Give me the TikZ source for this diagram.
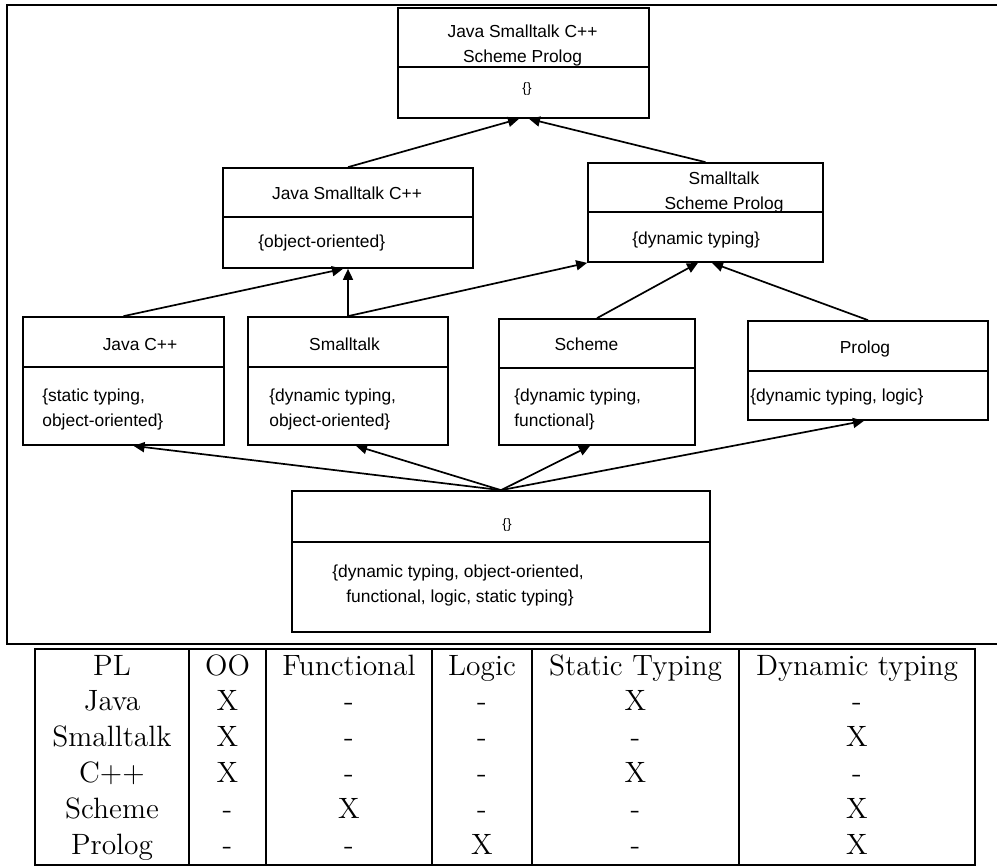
\documentclass[tikz,border=0pt]{standalone}
\usepackage{fontspec}
\newfontfamily\diagfont{Liberation Sans}
\usetikzlibrary{arrows.meta,calc,fit}

% class box: name, x1, y1, x2, y2, y of the compartment divider
\newcommand\umlclass[6]{%
  \node[classbox, fit={(#2,#3) (#4,#5)}] (#1) {};
  \draw[classline] ($(#1.north west)+(0,#6-#3)$) -- ($(#1.north east)+(0,#6-#3)$);
}

\tikzset{
  classbox/.style={draw, line width=0.85pt, inner sep=0pt, rectangle},
  classline/.style={line width=0.85pt},
  lbl/.style={inner sep=0pt, anchor=base, font=\diagfont\fontsize{8.7}{10}\selectfont},
  lblw/.style={lbl, anchor=base west},
  lbls/.style={lbl, font=\diagfont\fontsize{6.8}{8}\selectfont},
  isa/.style={line width=0.85pt, -{Triangle[length=5.5pt,width=5pt]}},
  frameline/.style={line width=1.1pt},
  cell/.style={inner sep=0pt, anchor=base, font=\fontsize{14.7}{18}\selectfont},
}

\begin{document}
\begin{tikzpicture}[x=0.5pt, y=-0.5pt]
\useasboundingbox (0,0) rectangle (997,866);

% outer frame around the lattice
\draw[frameline] (1003,5) -- (7,5) -- (7,644) -- (1003,644);

% concept boxes
\umlclass{top}{398}{8}{649}{118}{68}
\umlclass{cls2}{223}{168}{473}{268}{218}
\umlclass{cls3}{588}{163}{823}{262}{213}
\umlclass{javacpp}{23}{317}{224}{445}{368}
\umlclass{smalltalk}{248}{317}{448}{445}{368}
\umlclass{scheme}{499}{319}{695}{445}{369}
\umlclass{prolog}{748}{321}{988}{420}{372}
\umlclass{bottom}{292}{491}{710}{632}{543}

% box texts
\node[lbl] (top-a) at (522.5,38) {Java Smalltalk C++};
\node[lbl] (top-b) at (522.5,63) {Scheme Prolog};
\node[lbls] (top-c) at (527,93) {\{\}};

\node[lbl] (cls2-a) at (347,200) {Java Smalltalk C++};
\node[lblw] (cls2-b) at (258,248) {\{object-oriented\}};

\node[lbl] (cls3-a) at (724,185) {Smalltalk};
\node[lbl] (cls3-b) at (724,210) {Scheme Prolog};
\node[lblw] (cls3-c) at (632,245) {\{dynamic typing\}};

\node[lbl] (javacpp-a) at (140,351) {Java C++};
\node[lblw] (javacpp-b) at (42,402) {\{static typing,};
\node[lblw] (javacpp-c) at (42,427) {object-oriented\}};

\node[lbl] (smalltalk-a) at (344.5,351) {Smalltalk};
\node[lblw] (smalltalk-b) at (269,402) {\{dynamic typing,};
\node[lblw] (smalltalk-c) at (269,427) {object-oriented\}};

\node[lbl] (scheme-a) at (586.5,351) {Scheme};
\node[lblw] (scheme-b) at (514,402) {\{dynamic typing,};
\node[lblw] (scheme-c) at (514,427) {functional\}};

\node[lbl] (prolog-a) at (865,354) {Prolog};
\node[lblw] (prolog-b) at (750,402) {\{dynamic typing, logic\}};

\node[lbls] (bottom-a) at (507,528) {\{\}};
\node[lblw] (bottom-b) at (332,577) {\{dynamic typing, object-oriented,};
\node[lblw] (bottom-c) at (346,602) {functional, logic, static typing\}};

% order relation
\draw[isa] (cls2.north) -- ($(top.south)+(-4.5,0)$);
\draw[isa] (cls3.north) -- ($(top.south)+(5.5,0)$);
\draw[isa] (javacpp.north) -- ($(cls2.south)+(-5,0)$);
\draw[isa] (smalltalk.north) -- (cls2.south);
\draw[isa] (smalltalk.north) -- (cls3.south west);
\draw[isa] (scheme.north) -- ($(cls3.south)+(-7.5,0)$);
\draw[isa] (prolog.north) -- ($(cls3.south)+(6.5,0)$);
\draw[isa] (bottom.north) -- ($(javacpp.south)+(10,0)$);
\draw[isa] (bottom.north) -- ($(smalltalk.south)+(8,0)$);
\draw[isa] (bottom.north) -- ($(scheme.south)+(-7,0)$);
\draw[isa] (bottom.north) -- ($(prolog.south)+(-4,0)$);

% feature table
\draw[frameline] (35,649) rectangle (975,865);
\foreach \x in {189,266,432,532,739}
  \draw[frameline] (\x,649) -- (\x,865);

\def\colx{{112,227.5,349,482,635.5,857}}
\foreach \row [count=\r from 0] in {
  {PL,OO,Functional,Logic,Static Typing,Dynamic typing},
  {Java,X,-,-,X,-},
  {Smalltalk,X,-,-,-,X},
  {C++,X,-,-,X,-},
  {Scheme,-,X,-,-,X},
  {Prolog,-,-,X,-,X}}
{
  \foreach \txt [count=\c from 0] in \row {
    \pgfmathsetmacro\cx{\colx[\c]}
    \node[cell] (cell-\r-\c) at (\cx,675+35.8*\r) {\txt};
  }
}
\end{tikzpicture}
\end{document}
